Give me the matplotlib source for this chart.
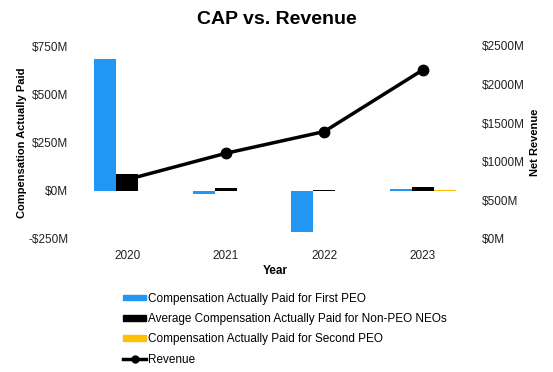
import matplotlib
matplotlib.use("Agg")
import matplotlib.pyplot as plt
import numpy as np
from matplotlib.lines import Line2D
from matplotlib.patches import Patch

plt.rcParams['font.family'] = ['Liberation Sans', 'DejaVu Sans']

years = ["2020", "2021", "2022", "2023"]
cap_first_peo = [682, -15, -214, 10]
cap_non_peo = [85, 12, 3, 20]
cap_second_peo = [0, 0, 0, 5]
revenue = [770, 1110, 1392, 2190]

left_ticks = [-250, 0, 250, 500, 750]
right_ticks = [0, 500, 1000, 1500, 2000, 2500]

c_blue = "#2196F3"
c_black = "#000000"
c_yellow = "#FFC000"

fig = plt.figure(figsize=(5.53, 3.72), dpi=100)
ax = fig.add_axes([78/553, 1 - 239/372, (472-78)/553, (239-46)/372])
ax2 = ax.twinx()
ax.set_zorder(ax2.get_zorder() + 1)
ax.patch.set_visible(False)

x = np.arange(len(years))
w = 0.225
ax.bar(x - w, cap_first_peo, w, color=c_blue, zorder=2)
ax.bar(x, cap_non_peo, w, color=c_black, zorder=2)
ax.bar(x + w, cap_second_peo, w, color=c_yellow, zorder=2)

ax2.plot(x, revenue, color="black", lw=2.5, marker="o", ms=7.5, zorder=3)

ax.set_xlim(-0.5, 3.5)
ax.set_ylim(-250, 750)
ax2.set_ylim(0, 2500)
ax.set_yticks(left_ticks)
ax.set_yticklabels([("-$%dM" % -v) if v < 0 else ("$%dM" % v) for v in left_ticks])
ax2.set_yticks(right_ticks)
ax2.set_yticklabels(["$%dM" % v for v in right_ticks])
ax.set_xticks(x)
ax.set_xticklabels(years)

for a in (ax, ax2):
    for s in a.spines.values():
        s.set_visible(False)
    a.tick_params(length=0, labelsize=8.5, colors="#222222")
ax.tick_params(axis='y', pad=7)
ax2.tick_params(axis='y', pad=7)
ax.tick_params(axis='x', pad=8)

ax.set_ylabel("Compensation Actually Paid", fontsize=8, fontweight="bold", labelpad=1)
ax2.set_ylabel("Net Revenue", fontsize=8, fontweight="bold", labelpad=4)
ax.set_xlabel("Year", fontsize=8.5, fontweight="bold", labelpad=2)

fig.text(0.5, 1 - 20/372, "CAP vs. Revenue", ha="center", va="center", fontsize=14, fontweight="bold")

handles = [
    Patch(color=c_blue),
    Patch(color=c_black),
    Patch(color=c_yellow),
    Line2D([0], [0], color="black", lw=2.5, marker="o", ms=5),
]
labels = [
    "Compensation Actually Paid for First PEO",
    "Average Compensation Actually Paid for Non-PEO NEOs",
    "Compensation Actually Paid for Second PEO",
    "Revenue",
]
fig.legend(handles, labels, loc="upper left", bbox_to_anchor=(118/553, 1 - 288/372),
           frameon=False, fontsize=8.5, handlelength=2.0, handleheight=0.4,
           handletextpad=0.1, labelspacing=0.7, borderaxespad=0)

fig.savefig("out.png", dpi=100)
